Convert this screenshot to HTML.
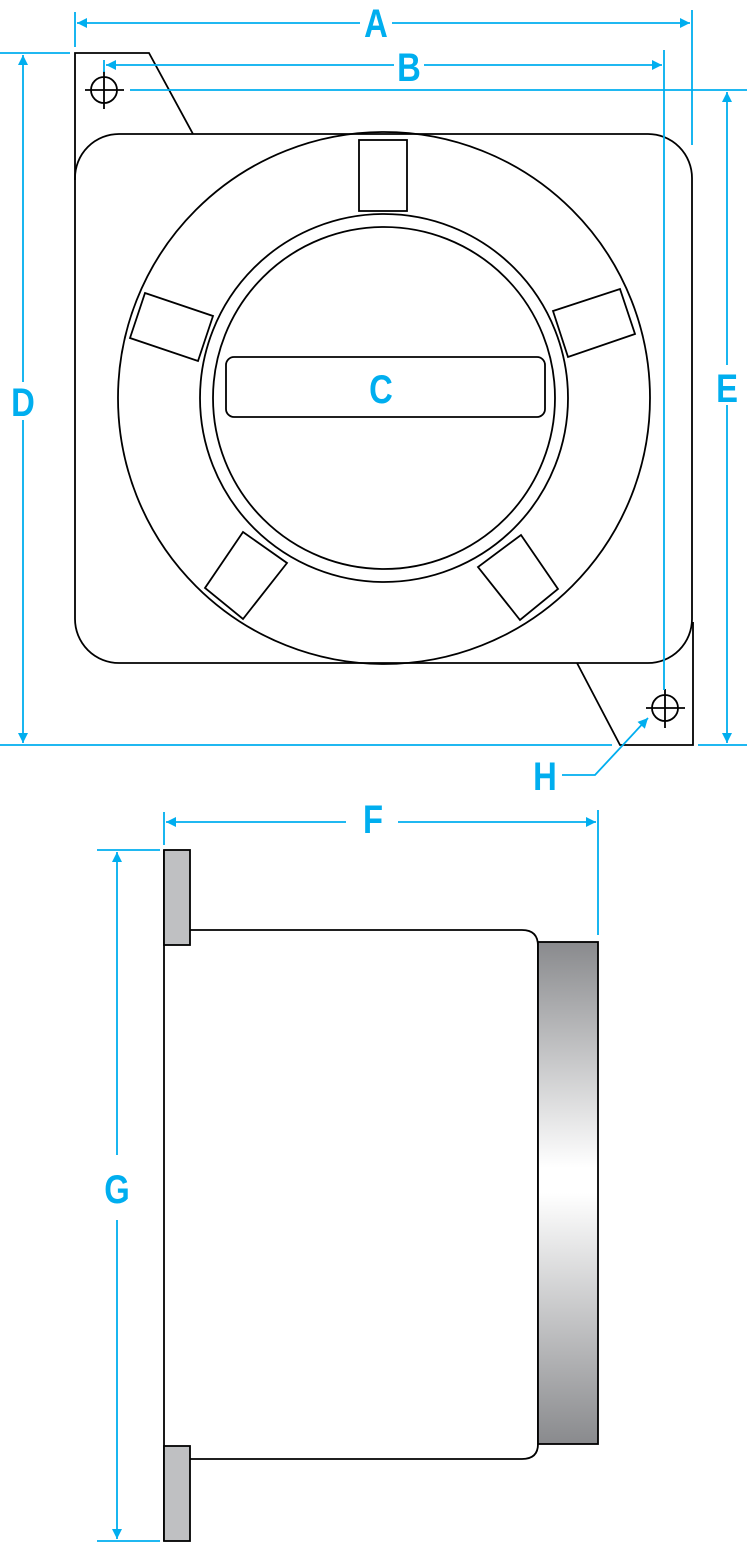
<!DOCTYPE html>
<html><head><style>html,body{margin:0;padding:0;background:#fff}svg{display:block}</style></head><body>
<svg width="747" height="1543" viewBox="0 0 747 1543" xmlns="http://www.w3.org/2000/svg">
<defs>
<marker id="ar" viewBox="0 0 10 10" refX="10" refY="5" markerWidth="18" markerHeight="10" markerUnits="userSpaceOnUse" orient="auto-start-reverse"><path d="M0,0 L10,5 L0,10 z" fill="#00aeef"/></marker>
<linearGradient id="g" x1="0" y1="0" x2="0" y2="1"><stop offset="0" stop-color="#898a8d"/><stop offset="0.45" stop-color="#ffffff"/><stop offset="0.5" stop-color="#ffffff"/><stop offset="1" stop-color="#898a8d"/></linearGradient>
</defs>
<g fill="none" stroke="#000" stroke-width="1.8">
<path d="M75,180 L75,53 L149,53 L193,134"/>
<rect x="75" y="134" width="617" height="529" rx="44"/>
<path d="M577,663 L620,745 L693,745 L693,622"/>
<circle cx="384" cy="398" r="266"/>
<circle cx="384" cy="398" r="184"/>
<circle cx="384" cy="398" r="171"/>
<rect x="226" y="357" width="319" height="60" rx="8"/>
<rect x="359" y="140" width="48" height="71"/>
<polygon points="145,293 213,316 198,361 130,338"/>
<polygon points="553,311 620,289 635,334 568,357"/>
<polygon points="243,532 287,563 243,619 205,588"/>
<polygon points="521,535 558,589 520,620 478,567"/>
<circle cx="104" cy="90" r="13"/>
<path d="M85,90 H124 M104,71 V109"/>
<circle cx="665" cy="708" r="13"/>
<path d="M646,708 H685 M665,689 V728"/>
</g>
<!-- side view -->
<g stroke="#000" stroke-width="1.8">
<path d="M164,850 V1541" fill="none"/>
<path d="M190,930 H522 Q538,930 538,946 V1444 Q538,1459 522,1459 H190" fill="none"/>
<rect x="164" y="850" width="26" height="95" fill="#bfc0c2"/>
<rect x="164" y="1446" width="26" height="95" fill="#bfc0c2"/>
<rect x="538" y="942" width="60" height="502" fill="url(#g)"/>
</g>
<g stroke="#00aeef" stroke-width="1.8" fill="none">
<path d="M75,12 V47 M692,10 V145 M104,60 V72 M664,50 V690 M130,90 H747 M0,53 H70 M0,745 H612 M698,745 H747"/>
<path d="M77,23 H360 M392,23 H690" marker-start="url(#ar)" marker-end="url(#ar)" />
<path d="M106,65 H394 M424,65 H662" marker-start="url(#ar)" marker-end="url(#ar)"/>
<path d="M23,55 V382 M23,420 V743" marker-start="url(#ar)" marker-end="url(#ar)"/>
<path d="M727,92 V365 M727,405 V743" marker-start="url(#ar)" marker-end="url(#ar)"/>
<path d="M562,775 H595 L648,718" marker-end="url(#ar)"/>
<path d="M164,812 V845 M598,810 V935 M97,850 H160 M97,1541 H160"/>
<path d="M166,822 H346 M398,822 H596" marker-start="url(#ar)" marker-end="url(#ar)"/>
<path d="M117,852 V1155 M117,1220 V1539" marker-start="url(#ar)" marker-end="url(#ar)"/>
</g>
<g fill="#00aeef" font-family="Liberation Sans, sans-serif" font-weight="bold" font-size="40" text-anchor="middle">
<text transform="translate(376,37) scale(0.82,1)">A</text>
<text transform="translate(409,81) scale(0.82,1)">B</text>
<text transform="translate(381,403) scale(0.82,1)">C</text>
<text transform="translate(23,416) scale(0.82,1)">D</text>
<text transform="translate(727,402) scale(0.82,1)">E</text>
<text transform="translate(545,790) scale(0.82,1)">H</text>
<text transform="translate(373,833) scale(0.82,1)">F</text>
<text transform="translate(117,1203) scale(0.82,1)">G</text>
</g>
</svg>
</body></html>
